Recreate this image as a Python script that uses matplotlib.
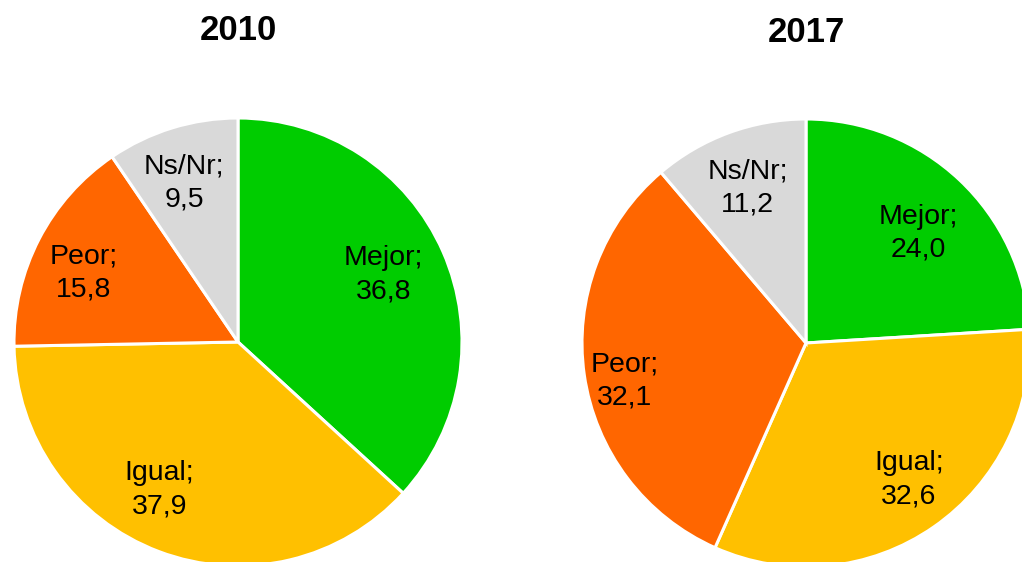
import matplotlib.pyplot as plt

plt.rcParams['font.family'] = ['Liberation Sans', 'DejaVu Sans']

categorias = ['Mejor', 'Igual', 'Peor', 'Ns/Nr']
valores_2010 = [36.8, 37.9, 15.8, 9.5]
valores_2017 = [24.0, 32.6, 32.1, 11.2]
colores = ['#00CC00', '#FFC000', '#FF6600', '#D9D9D9']

# posicion de las etiquetas dentro de cada pastel (unidades del radio)
pos_2010 = [(0.65, 0.30), (-0.35, -0.66), (-0.69, 0.31), (-0.24, 0.71)]
pos_2017 = [(0.50, 0.49), (0.46, -0.61), (-0.81, -0.17), (-0.26, 0.69)]

W, H = 1022, 562
fig = plt.figure(figsize=(W / 100, H / 100), dpi=100)


def pastel(cx, cy, r, vals, titulo, ty, pos):
    ax = fig.add_axes([(cx - r) / W, (H - cy - r) / H, 2 * r / W, 2 * r / H])
    labels = [c + ';\n' + ('%.1f' % v).replace('.', ',') for c, v in zip(categorias, vals)]
    wedges, texts = ax.pie(vals, colors=colores, startangle=90, counterclock=False,
                           labels=labels, labeldistance=0.72, radius=1,
                           wedgeprops=dict(edgecolor='white', linewidth=2.2),
                           textprops=dict(fontsize=20.5, linespacing=1.35))
    for t, p in zip(texts, pos):
        t.set_ha('center')
        t.set_va('center')
        t.set_position(p)
    ax.set_xlim(-1, 1)
    ax.set_ylim(-1, 1)
    ax.set_aspect('equal')
    ax.axis('off')
    fig.text(cx / W, 1 - ty / H, titulo, ha='center', va='center',
             fontsize=25, fontweight='bold')


pastel(238, 342, 224, valores_2010, '2010', 30, pos_2010)
pastel(806, 343, 224, valores_2017, '2017', 32, pos_2017)

fig.savefig('out.png', dpi=100)
